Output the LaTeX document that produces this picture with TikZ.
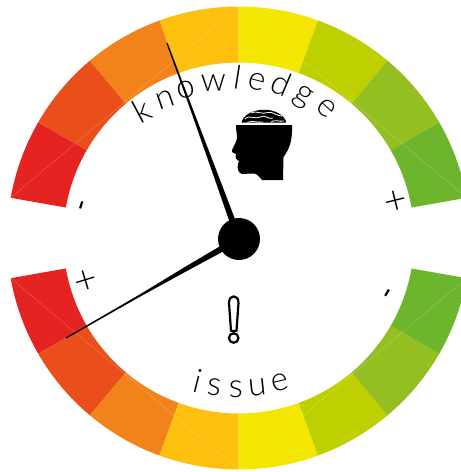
\documentclass[tikz,border=0pt]{standalone}
\usepackage{fontspec}
\setmainfont{Lato Light}
\newfontfamily\regfont{Lato}
\definecolor{c1}{HTML}{E52421}
\definecolor{c2}{HTML}{E94E1B}
\definecolor{c3}{HTML}{F1831A}
\definecolor{c4}{HTML}{FDC00E}
\definecolor{c5}{HTML}{F3E600}
\definecolor{c6}{HTML}{BFD000}
\definecolor{c7}{HTML}{93BF20}
\definecolor{c8}{HTML}{6EB52E}
\tikzset{
  seg/.style={fill=#1,draw=none},
  seam/.style={draw=white,opacity=.22,line width=.5pt},
  glyph/.style={inner sep=0pt,outer sep=0pt,font=\fontsize{33}{33}\selectfont,text=black},
  plussign/.style={inner sep=0pt,outer sep=0pt,font=\fontsize{40}{40}\selectfont,text=black},
  minussign/.style={inner sep=0pt,outer sep=0pt,font=\regfont\fontsize{30}{30}\selectfont,text=black}
}
\newcommand{\ringseg}[3]{\fill[seg=#3] (#1:231.5) arc[start angle=#1,end angle=#2,radius=231.5] -- (#2:175.5) arc[start angle=#2,end angle=#1,radius=175.5] -- cycle;}
\begin{document}
\begin{tikzpicture}[x=1pt,y=-1pt]
\path[use as bounding box] (0,0) rectangle (461,472);
\clip (0,0) rectangle (461,472);
\begin{scope}[shift={(238.7pt,-238pt)},y=1pt]
\ringseg{170}{150}{c1}\ringseg{150}{130}{c2}\ringseg{130}{110}{c3}\ringseg{110}{90}{c4}
\ringseg{90}{70}{c5}\ringseg{70}{50}{c6}\ringseg{50}{30}{c7}\ringseg{30}{10}{c8}
\ringseg{190}{210}{c1}\ringseg{210}{230}{c2}\ringseg{230}{250}{c3}\ringseg{250}{270}{c4}
\ringseg{270}{290}{c5}\ringseg{290}{310}{c6}\ringseg{310}{330}{c7}\ringseg{330}{350}{c8}
\foreach \a/\b in {170/90,90/10,190/270,270/350}{
  \draw[seam] (\a:231.5) -- (\b:231.5);
}
% knowledge letters
\node[glyph,anchor=base,rotate=28] (k1) at (128:149) {k};
\node[glyph,anchor=base,rotate=19] (k2) at (118.5:149) {n};
\node[glyph,anchor=base,rotate=11] (k3) at (110:149) {o};
\node[glyph,anchor=base,rotate=1] (k4) at (99.7:149) {w};
\node[glyph,anchor=base,rotate=-9] (k5) at (91:149) {l};
\node[glyph,anchor=base,rotate=-15] (k6) at (83.7:149) {e};
\node[glyph,anchor=base,rotate=-23] (k7) at (75.2:149) {d};
\node[glyph,anchor=base,rotate=-32] (k8) at (66:149) {g};
\node[glyph,anchor=base,rotate=-42] (k9) at (56.5:149) {e};
\end{scope}
% issue letters
\node[glyph,anchor=base,rotate=-14] (i1) at (195,392) {i};
\node[glyph,anchor=base,rotate=-7] (i2) at (213,395) {s};
\node[glyph,anchor=base,rotate=0] (i3) at (236,397) {s};
\node[glyph,anchor=base,rotate=6] (i4) at (259,396) {u};
\node[glyph,anchor=base,rotate=13] (i5) at (282,391) {e};
% signs
\node[minussign,rotate=72] (m1) at (85.5,207) {-};
\node[minussign,rotate=60] (m2) at (391,295) {-};
\node[plussign,rotate=17] (p1) at (86,282) {+};
\node[plussign,rotate=14] (p2) at (396,202) {+};
% needles
\fill (166.4,43.2) -- (188.9,105.4) -- (212.9,173.8) -- (235.9,240.2) -- (242.1,237.8) -- (217.1,172.2) -- (191.1,104.6) -- (167.6,42.8) -- cycle;
\fill (65.7,337.5) -- (139.5,294.6) -- (184,267.5) -- (237.3,236) -- (240.7,242) -- (186,271.5) -- (140.5,296.4) -- (66.3,338.5) -- cycle;
\node[circle,fill=black,minimum size=42pt,inner sep=0pt] (hub) at (239,239) {};
% exclamation
\draw[line width=2.2pt,line join=round] (229,303) .. controls (229,294) and (238.5,294) .. (238.5,303) -- (236.5,331) -- (231,331) -- cycle;
\node[circle,draw=black,line width=2.2pt,minimum size=9.5pt,inner sep=0pt] (dot) at (233.7,338) {};
% head
\fill (236,125) -- (292,125) .. controls (292.5,140) and (290,148) .. (283.5,157) -- (283,180) -- (262,180) .. controls (258,175) and (256,173) .. (252,173.5) -- (242,174) .. controls (238,173) and (237,168) .. (238,164) -- (239,161) .. controls (236,160) and (235,157) .. (236,154) -- (232,152) .. controls (231,150) and (236,143) .. (237,139) .. controls (237,134) and (236,130) .. (236,125) -- cycle;
% brain
\begin{scope}
\clip (241.5,122.5) .. controls (246,106) and (281,105) .. (286.5,122.5) -- cycle;
\fill (241,123) rectangle (287,105);
\draw[white,line width=.8pt] (245,119) .. controls (250,114) and (254,120) .. (260,117) .. controls (266,114) and (268,120) .. (273,118) (247,122.5) .. controls (252,120) and (258,123) .. (263,122) (251,113) .. controls (256,110) and (262,115) .. (268,112.5) .. controls (272,111) and (276,116) .. (282,116) (271,122) .. controls (275,119) and (279,122) .. (284,121);
\end{scope}
\end{tikzpicture}
\end{document}
